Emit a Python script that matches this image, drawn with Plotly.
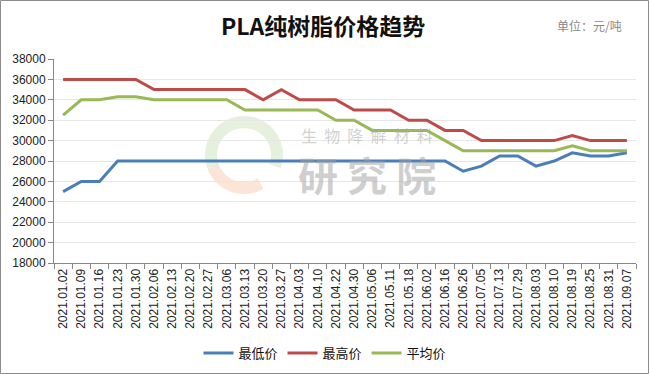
import math
import plotly.graph_objects as go

dates = ["2021.01.02","2021.01.09","2021.01.16","2021.01.23","2021.01.30","2021.02.06","2021.02.13",
         "2021.02.20","2021.02.27","2021.03.06","2021.03.13","2021.03.20","2021.03.27","2021.04.03",
         "2021.04.10","2021.04.22","2021.04.30","2021.05.06","2021.05.11","2021.05.18","2021.06.02",
         "2021.06.16","2021.06.26","2021.07.05","2021.07.13","2021.07.29","2021.08.03","2021.08.10",
         "2021.08.19","2021.08.25","2021.08.31","2021.09.07"]

min_price = [25000,26000,26000,28000,28000,28000,28000,28000,28000,28000,28000,28000,28000,28000,
             28000,28000,28000,28000,28000,28000,28000,28000,27000,27500,28500,28500,27500,28000,
             28800,28500,28500,28800]
max_price = [36000,36000,36000,36000,36000,35000,35000,35000,35000,35000,35000,34000,35000,34000,
             34000,34000,33000,33000,33000,32000,32000,31000,31000,30000,30000,30000,30000,30000,
             30500,30000,30000,30000]
avg_price = [32500,34000,34000,34300,34300,34000,34000,34000,34000,34000,33000,33000,33000,33000,
             33000,32000,32000,31000,31000,31000,31000,30000,29000,29000,29000,29000,29000,29000,
             29500,29000,29000,29000]

series = [("最低价", min_price, "#4a7ebb"),
          ("最高价", max_price, "#be4b48"),
          ("平均价", avg_price, "#98b954")]

fig = go.Figure()
for name, vals, color in series:
    fig.add_trace(go.Scatter(x=dates, y=vals, name=name, mode="lines",
                             line=dict(color=color, width=3)))

W, H = 649, 374
L, R, T, B = 54, 13, 59, 111
pw, ph = W - L - R, H - T - B

def px(x):
    return (x - L) / pw

def py(y):
    return (H - B - y) / ph

fig.update_layout(
    width=W, height=H,
    margin=dict(l=L, r=R, t=T, b=B, autoexpand=False),
    paper_bgcolor="white", plot_bgcolor="white",
    showlegend=True,
    legend=dict(orientation="h", xref="container", yref="container",
                x=325 / W, xanchor="center", y=(H - 353) / H, yanchor="middle",
                font=dict(family="Noto Sans CJK SC", size=13, color="#111111"),
                itemwidth=30, tracegroupgap=0),
)

# outer border
fig.add_shape(type="rect", xref="paper", yref="paper",
              x0=px(0.5), x1=px(W - 0.5), y0=py(H - 0.5), y1=py(0.5),
              line=dict(color="#8c8c8c", width=1))

# faint watermark logo (ring)
def arc_path(cx, cy, r, a0, a1, n=40):
    pts = []
    for k in range(n + 1):
        a = math.radians(a0 + (a1 - a0) * k / n)
        pts.append((px(cx + r * math.cos(a)), py(cy - r * math.sin(a))))
    return "M " + " L ".join(f"{x:.5f},{y:.5f}" for x, y in pts)

fig.add_shape(type="path", xref="paper", yref="paper", path=arc_path(244, 155, 33, -20, 200),
              line=dict(color="rgba(160,205,130,0.28)", width=12), layer="below")
fig.add_shape(type="path", xref="paper", yref="paper", path=arc_path(244, 155, 33, 200, 300),
              line=dict(color="rgba(240,160,110,0.28)", width=12), layer="below")

fig.add_annotation(x=px(367), y=py(135), xref="paper", yref="paper", xanchor="center", yanchor="middle",
                   text="生\u00a0\u00a0物\u00a0\u00a0降\u00a0\u00a0解\u00a0\u00a0材\u00a0\u00a0料", showarrow=False,
                   font=dict(family="Noto Sans CJK SC", size=16, color="rgba(170,170,170,0.55)"))
fig.add_annotation(x=px(367), y=py(174), xref="paper", yref="paper", xanchor="center", yanchor="middle",
                   text="<b>研\u00a0究\u00a0院</b>", showarrow=False,
                   font=dict(family="Noto Sans CJK SC", size=40, color="rgba(160,160,160,0.5)"))

fig.add_annotation(x=px(323), y=py(25), xref="paper", yref="paper", xanchor="center", yanchor="middle",
                   text="<b>PLA纯树脂价格趋势</b>", showarrow=False,
                   font=dict(family="Noto Sans CJK SC", size=23, color="#111111"))
fig.add_annotation(x=px(589), y=py(26), xref="paper", yref="paper", xanchor="center", yanchor="middle",
                   text="单位：元/吨", showarrow=False,
                   font=dict(family="Noto Sans CJK SC", size=12, color="#888888"))

fig.update_xaxes(type="category", tickson="boundaries", ticks="outside", ticklen=5,
                 tickcolor="#888888", showline=True, linecolor="#888888", linewidth=1,
                 showgrid=False, tickangle=-90, automargin=False,
                 tickfont=dict(family="Liberation Sans", size=12, color="#222222"),
                 range=[-0.5, len(dates) - 0.5])
fig.update_yaxes(range=[18000, 38000], dtick=2000, tickformat="d", ticks="outside", ticklen=5,
                 tickcolor="#888888", showline=True, linecolor="#888888", linewidth=1,
                 showgrid=True, gridcolor="#e6e6e6", gridwidth=1, zeroline=False, automargin=False,
                 tickfont=dict(family="Liberation Sans", size=12, color="#222222"))

fig.write_html("out.html", config={"displayModeBar": False},
               post_script="document.body.style.margin='0';")
